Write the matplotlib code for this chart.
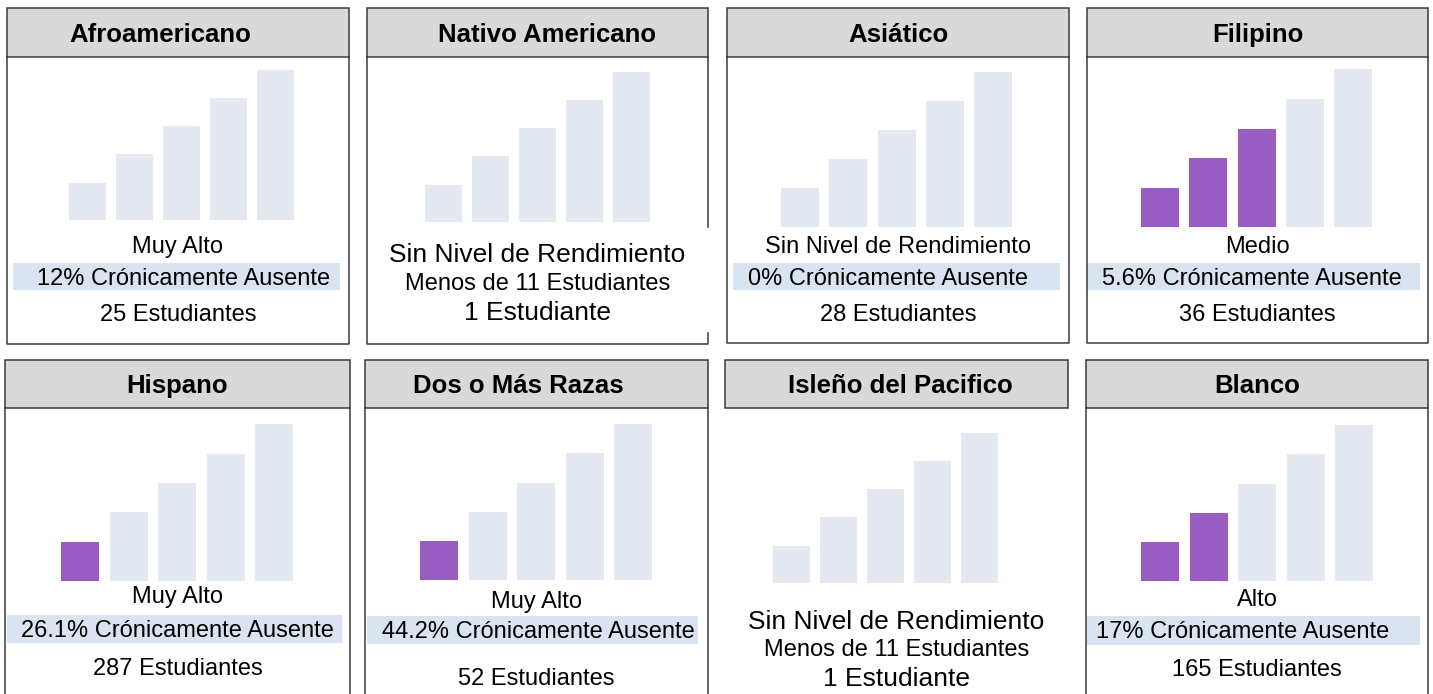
import matplotlib
matplotlib.use("Agg")
import matplotlib.pyplot as plt
from matplotlib.patches import Rectangle

plt.rcParams['font.family'] = ['Liberation Sans', 'DejaVu Sans']

# data
groups = ["Afroamericano", "Nativo Americano", "Asiático", "Filipino",
          "Hispano", "Dos o Más Razas", "Isleño del Pacifico", "Blanco"]
levels = ["Muy Alto", "Sin Nivel de Rendimiento", "Sin Nivel de Rendimiento", "Medio",
          "Muy Alto", "Muy Alto", "Sin Nivel de Rendimiento", "Alto"]
absent_pct = ["12%", None, "0%", "5.6%", "26.1%", "44.2%", None, "17%"]
students = [25, 1, 28, 36, 287, 52, 1, 165]
filled_bars = [0, 0, 0, 3, 1, 1, 0, 2]
bar_heights = [4, 7, 10, 13, 16]

W, H = 1433, 694
PURPLE = "#985dc2"
LIGHT = "#e4e9f1"
BAND = "#dae4f0"
HEAD = "#d9d9d9"
EDGE = "#3a3a3a"
TDY = 2  # text baseline nudge

# layout in pixels (x0, x1, header top, header bottom, body bottom)
boxes = [(7, 349, 8, 57, 344), (367, 708, 8, 57, 344), (727, 1069, 8, 57, 343),
         (1087, 1428, 8, 57, 343), (5, 350, 360, 408, None), (365, 708, 360, 408, None),
         (725, 1068, 360, 408, None), (1086, 1428, 360, 408, None)]
title_dx = [-18, 10, 0, 0, 0, -18, 4, 0]
# bar area: left x, base y, pitch, bar width, px per unit
bar_geo = [(69, 220, 47, 37, 9.375), (425, 222, 47, 37, 9.375), (781, 227, 48.3, 38, 9.7),
           (1141, 227, 48.3, 38, 9.85), (61, 581, 48.6, 38, 9.8), (420, 580, 48.6, 38, 9.75),
           (773, 583, 47, 37, 9.375), (1141, 581, 48.5, 38, 9.75)]
# text rows: level y, band y0 (or second line y), band y1, band x0, band x1, pct text x, students y
text_geo = [(245, 263, 290, 13, 340, 184, 313), (253, 282, None, None, None, None, 311),
            (245, 263, 290, 733, 1060, 888, 313), (245, 263, 290, 1087, 1420, 1252, 313),
            (595, 615, 643, 7, 342, 177, 667), (600, 616, 644, 367, 698, 538, 677),
            (620, 648, None, None, None, None, 677), (598, 616, 645, 1087, 1420, 1243, 668)]

fig = plt.figure(figsize=(W / 100, H / 100), dpi=100)
bg = fig.add_axes([0, 0, 1, 1])
bg.set_xlim(0, W)
bg.set_ylim(H, 0)
bg.axis("off")

for i, g in enumerate(groups):
    x0, x1, ht, hb, bb = boxes[i]
    cx = (x0 + x1) / 2

    # header box
    bg.add_patch(Rectangle((x0, ht), x1 - x0, hb - ht, facecolor=HEAD,
                           edgecolor=EDGE, linewidth=1.1))
    bg.text(cx + title_dx[i], (ht + hb) / 2 + 2, g, ha="center", va="center",
            fontsize=18.5, fontweight="bold")

    # body frame
    if g == "Nativo Americano":
        bg.plot([x0, x0, x1, x1], [hb, bb, bb, 333], color=EDGE, lw=1.1)
        bg.plot([x1, x1], [hb, 227], color=EDGE, lw=1.1)
    elif bb is not None:
        bg.plot([x0, x0, x1, x1], [hb, bb, bb, hb], color=EDGE, lw=1.1)
    elif g != "Isleño del Pacifico":
        bg.plot([x0, x0], [hb, H], color=EDGE, lw=1.1)
        bg.plot([x1, x1], [hb, H], color=EDGE, lw=1.1)

    # bar chart
    bx, by, pitch, bw, unit = bar_geo[i]
    aw = 4 * pitch + bw
    ah = max(bar_heights) * unit
    ax = fig.add_axes([bx / W, 1 - by / H, aw / W, ah / H])
    w = bw / pitch
    cols = [PURPLE if k < filled_bars[i] else LIGHT for k in range(len(bar_heights))]
    ax.bar(range(len(bar_heights)), bar_heights, width=w, color=cols)
    ax.set_xlim(-w / 2, len(bar_heights) - 1 + w / 2)
    ax.set_ylim(0, max(bar_heights))
    ax.axis("off")

    # text block
    ly, b0, b1, bx0, bx1, px, sy = text_geo[i]
    if students[i] < 11:
        bg.text(cx, ly + TDY, levels[i], ha="center", va="center", fontsize=19)
        bg.text(cx, b0 + TDY, "Menos de 11 Estudiantes", ha="center", va="center", fontsize=17)
        word = "Estudiante" if students[i] == 1 else "Estudiantes"
        bg.text(cx, sy + TDY, f"{students[i]} {word}", ha="center", va="center", fontsize=19)
        continue
    bg.text(cx, ly + TDY, levels[i], ha="center", va="center", fontsize=17)
    bg.add_patch(Rectangle((bx0, b0), bx1 - bx0, b1 - b0, facecolor=BAND,
                           edgecolor="none"))
    bg.text(px, (b0 + b1) / 2 + TDY, f"{absent_pct[i]} Crónicamente Ausente",
            ha="center", va="center", fontsize=17)
    bg.text(cx, sy + TDY, f"{students[i]} Estudiantes", ha="center", va="center", fontsize=17)

fig.savefig("out.png", dpi=100)
